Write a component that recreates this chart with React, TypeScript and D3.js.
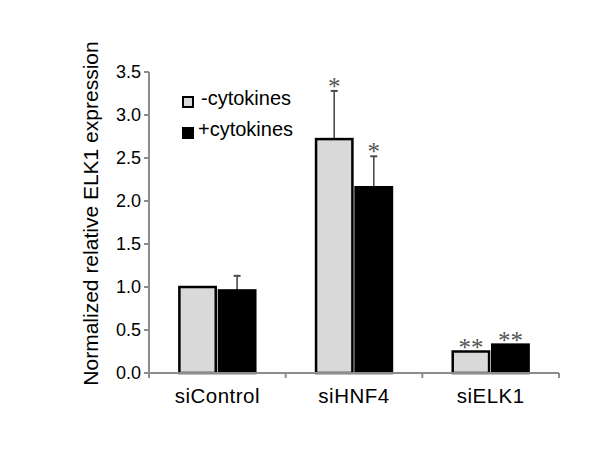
import React from "react";
import * as d3 from "d3";

const categories = ["siControl", "siHNF4", "siELK1"];
const seriesNames = ["-cytokines", "+cytokines"];
const minusCyto = [1.0, 2.72, 0.25];
const plusCyto = [0.96, 2.16, 0.33];
const minusErr = [0, 0.56, 0];
const plusErr = [0.17, 0.36, 0];
const minusStars = ["", "*", "**"];
const plusStars = ["", "*", "**"];
const yTicks = [0, 0.5, 1.0, 1.5, 2.0, 2.5, 3.0, 3.5];

const W = 600, H = 469;
const left = 149, right = 559, top = 72, bottom = 373;
const fillColors = ["#d9d9d9", "#000000"];
const font = "'Liberation Sans', Arial, sans-serif";

export default function App() {
  const y = d3.scaleLinear().domain([0, 3.5]).range([bottom, top]);
  const x = d3.scaleBand().domain(categories).range([left, right]).paddingInner(0.43).paddingOuter(0.215);
  const xi = d3.scaleBand().domain(seriesNames).range([0, x.bandwidth()]).paddingInner(0.03);
  const series = [
    { name: seriesNames[0], vals: minusCyto, err: minusErr, stars: minusStars },
    { name: seriesNames[1], vals: plusCyto, err: plusErr, stars: plusStars },
  ];
  const step = x.step();
  const boundaries = d3.range(categories.length + 1).map((i) => left + i * step);
  return (
    <svg width={W} height={H} style={{ position: "absolute", left: 0, top: 0, background: "#fff" }}>
      <rect width={W} height={H} fill="#fff" />
      {series.map((s, si) =>
        categories.map((c, ci) => {
          const bx = (x(c) as number) + (xi(s.name) as number);
          const bw = xi.bandwidth();
          const yv = y(s.vals[ci]);
          const yTop = y(s.vals[ci] + s.err[ci]);
          return (
            <g key={`${si}-${ci}`}>
              {s.err[ci] > 0 && (
                <g stroke="#4a4a4a">
                  <line x1={bx + bw / 2} x2={bx + bw / 2} y1={yv} y2={yTop} strokeWidth={1.6} />
                  <line x1={bx + bw / 2 - 3.5} x2={bx + bw / 2 + 3.5} y1={yTop} y2={yTop} strokeWidth={2} />
                </g>
              )}
              <rect x={bx + 1} y={yv} width={bw - 2} height={bottom - yv} fill={fillColors[si]} stroke="#000" strokeWidth={2.5} />
              {s.stars[ci] && (
                <text
                  x={bx + bw / 2}
                  y={yTop + 4}
                  textAnchor="middle"
                  fontFamily="'Liberation Serif', serif"
                  fontSize={25}
                  fill="#555"
                >
                  {s.stars[ci]}
                </text>
              )}
            </g>
          );
        })
      )}
      <line x1={left} x2={left} y1={top} y2={bottom} stroke="#8c8c8c" strokeWidth={2} />
      {yTicks.map((t) => (
        <g key={t}>
          <line x1={left - 5} x2={left} y1={y(t)} y2={y(t)} stroke="#8c8c8c" strokeWidth={2} />
          <text x={left - 8} y={y(t)} dy="0.36em" textAnchor="end" fontFamily={font} fontSize={18} fill="#000">
            {t.toFixed(1)}
          </text>
        </g>
      ))}
      <line x1={left} x2={right} y1={bottom} y2={bottom} stroke="#8c8c8c" strokeWidth={2} />
      {boundaries.map((b, i) => (
        <line key={i} x1={b} x2={b} y1={bottom} y2={bottom + 5} stroke="#8c8c8c" strokeWidth={2} />
      ))}
      {categories.map((c) => (
        <text key={c} x={(x(c) as number) + x.bandwidth() / 2} y={bottom + 30} textAnchor="middle" fontFamily={font} fontSize={20.5} letterSpacing={0.5} fill="#000">
          {c}
        </text>
      ))}
      <text
        transform={`translate(98,${(top + bottom) / 2 - 9}) rotate(-90)`}
        textAnchor="middle"
        fontFamily={font}
        fontSize={21}
        fill="#000"
      >
        Normalized relative ELK1 expression
      </text>
      {seriesNames.map((n, i) => (
        <g key={n}>
          <rect x={183} y={97 + i * 31} width={10} height={10} fill={fillColors[i]} stroke="#000" strokeWidth={2} />
          <text x={i === 0 ? 201 : 198} y={105 + i * 31} fontFamily={font} fontSize={20} fill="#000">
            {n}
          </text>
        </g>
      ))}
    </svg>
  );
}
